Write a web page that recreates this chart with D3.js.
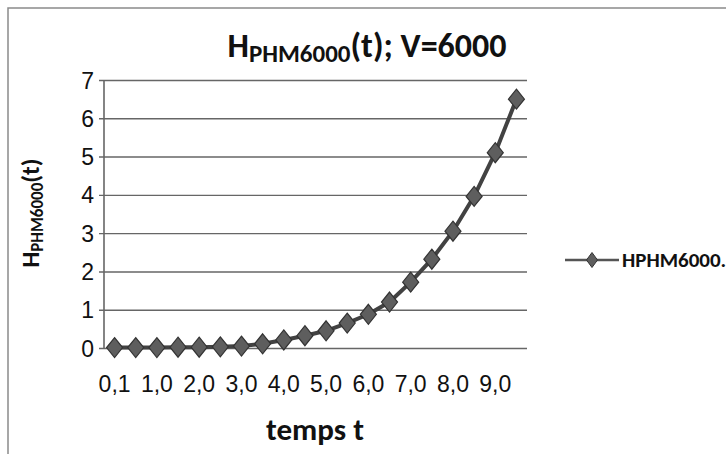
<!DOCTYPE html>
<html>
<head>
<meta charset="utf-8">
<script src="https://cdn.jsdelivr.net/npm/d3@7"></script>
<style>
  body { margin: 0; background: #fff; }
  svg { display: block; font-family: Carlito, Lato, "Open Sans", sans-serif; }
</style>
</head>
<body>
<div id="chart"></div>
<script>
// time values (category axis) and H values
const times = [0.1, 0.5, 1.0, 1.5, 2.0, 2.5, 3.0, 3.5, 4.0, 4.5,
               5.0, 5.5, 6.0, 6.5, 7.0, 7.5, 8.0, 8.5, 9.0, 9.5];
const hValues = [0.01, 0.01, 0.01, 0.02, 0.02, 0.03, 0.05, 0.11, 0.21, 0.32,
                 0.45, 0.65, 0.88, 1.2, 1.72, 2.32, 3.05, 3.96, 5.1, 6.5];
const yTicks = [0, 1, 2, 3, 4, 5, 6, 7];
const seriesName = 'HPHM6000.';

const width = 726, height = 454;
const plot = { left: 104, right: 527, top: 80, bottom: 348 };

const svg = d3.select('#chart').append('svg')
  .attr('width', width)
  .attr('height', height);

// outer frame (only top and left edges are visible in the scan)
svg.append('path')
  .attr('d', 'M8,454 L8,8 L726,8')
  .attr('fill', 'none')
  .attr('stroke', '#8a8a8a')
  .attr('stroke-width', 1.5);

const x = d3.scaleBand()
  .domain(times.map(String))
  .range([plot.left, plot.right])
  .padding(0);

const y = d3.scaleLinear()
  .domain([0, 7])
  .range([plot.bottom, plot.top]);

const fmt = v => v.toFixed(1).replace('.', ',');

// horizontal gridlines + y axis
const yAxis = d3.axisLeft(y)
  .tickValues(yTicks)
  .tickSize(-(plot.right - plot.left))
  .tickPadding(10)
  .tickFormat(d3.format('d'));

const gy = svg.append('g')
  .attr('transform', 'translate(' + plot.left + ',0)')
  .call(yAxis);
gy.select('.domain').remove();
gy.selectAll('.tick line')
  .attr('x1', -5)
  .attr('stroke', '#666')
  .attr('stroke-width', 1.4);
gy.selectAll('.tick text')
  .attr('font-size', 23)
  .attr('fill', '#111')
  .attr('dy', '0.35em');

// vertical axis line
svg.append('line')
  .attr('x1', plot.left).attr('x2', plot.left)
  .attr('y1', plot.top).attr('y2', plot.bottom)
  .attr('stroke', '#666')
  .attr('stroke-width', 1.6);

// x axis labels, every second category
const xAxis = d3.axisBottom(x)
  .tickValues(times.filter((d, i) => i % 2 === 0).map(String))
  .tickSize(0)
  .tickPadding(0)
  .tickFormat(d => fmt(+d));

const gx = svg.append('g')
  .attr('transform', 'translate(0,' + plot.bottom + ')')
  .call(xAxis);
gx.select('.domain').remove();
gx.selectAll('.tick text')
  .attr('font-size', 23)
  .attr('fill', '#111')
  .attr('y', 44)
  .attr('dy', 0);

// series line
const data = times.map((t, i) => ({ t: String(t), v: hValues[i] }));
const cx = d => x(d.t) + x.bandwidth() / 2;

svg.append('path')
  .datum(data)
  .attr('fill', 'none')
  .attr('stroke', '#424242')
  .attr('stroke-width', 4)
  .attr('d', d3.line().x(cx).y(d => y(d.v)));

const diamond = (w, h) => 'M0,' + (-h / 2) + ' L' + (w / 2) + ',0 L0,' + (h / 2) + ' L' + (-w / 2) + ',0 Z';

svg.selectAll('.marker')
  .data(data)
  .enter()
  .append('path')
  .attr('class', 'marker')
  .attr('d', diamond(16, 20))
  .attr('transform', d => 'translate(' + cx(d) + ',' + y(d.v) + ')')
  .attr('fill', '#5e5e5e')
  .attr('stroke', '#333')
  .attr('stroke-width', 1.2);

// title
const title = svg.append('text')
  .attr('x', 367)
  .attr('y', 57)
  .attr('text-anchor', 'middle')
  .attr('font-size', 34)
  .attr('font-weight', 'bold')
  .attr('fill', '#111');
title.append('tspan').text('H');
title.append('tspan').attr('font-size', 25).attr('dy', 5).text('PHM6000');
title.append('tspan').attr('dy', -5).text('(t); V=6000');

// y axis title
const yTitle = svg.append('text')
  .attr('transform', 'translate(39,213) rotate(-90)')
  .attr('text-anchor', 'middle')
  .attr('font-size', 25)
  .attr('font-weight', 'bold')
  .attr('fill', '#111');
yTitle.append('tspan').text('H');
yTitle.append('tspan').attr('font-size', 17).attr('dy', 4).text('PHM6000');
yTitle.append('tspan').attr('dy', -4).text('(t)');

// x axis title
svg.append('text')
  .attr('x', 315)
  .attr('y', 440)
  .attr('text-anchor', 'middle')
  .attr('font-size', 31)
  .attr('font-weight', 'bold')
  .attr('fill', '#111')
  .text('temps t');

// legend
const lg = svg.append('g').attr('transform', 'translate(565,260)');
lg.append('line')
  .attr('x1', 0).attr('x2', 54)
  .attr('stroke', '#555')
  .attr('stroke-width', 2.5);
lg.append('path')
  .attr('d', diamond(11, 15))
  .attr('transform', 'translate(27,0)')
  .attr('fill', '#5e5e5e')
  .attr('stroke', '#333');
lg.append('text')
  .attr('x', 57)
  .attr('dy', '0.35em')
  .attr('font-size', 21)
  .attr('font-weight', 'bold')
  .attr('fill', '#111')
  .text(seriesName);
</script>
</body>
</html>
